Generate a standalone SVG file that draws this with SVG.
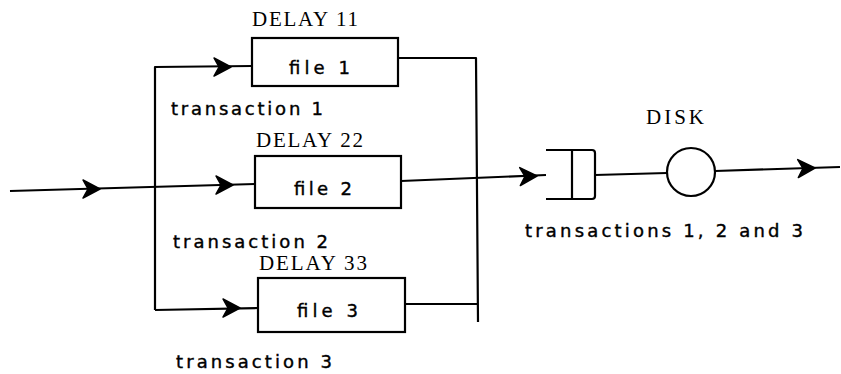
<svg xmlns="http://www.w3.org/2000/svg" width="841" height="374" viewBox="0 0 841 374">
<defs>
<style>
.ln{fill:none;stroke:#000;stroke-width:2.2;stroke-linejoin:round}
.box{fill:#fff;stroke:#000;stroke-width:2.2}
.mono{font-family:"Liberation Serif","DejaVu Serif",serif;font-size:21px;fill:#000}
.sans{font-family:"DejaVu Sans","Liberation Sans",sans-serif;font-size:18px;fill:#000;stroke:#000;stroke-width:0.4}
</style>
<path id="ah" d="M0,0 L-17,-9 L-12,0 L-17,9 Z" fill="#000" stroke="#000" stroke-width="1.5" stroke-linejoin="round"/>
</defs>
<rect width="841" height="374" fill="#fff"/>
<g id="connectors">
<path class="ln" d="M10,191 L255,184"/>
<path class="ln" d="M155,310 L155,67 L252,66"/>
<path class="ln" d="M155,310 L258,308"/>
<path class="ln" d="M398,58 L476,58 L478,322"/>
<path class="ln" d="M405,304 L478,304"/>
<path class="ln" d="M401,181 L546,175"/>
<path class="ln" d="M595,175 L667,173"/>
<path class="ln" d="M715,171 L840,167"/>
<use href="#ah" transform="translate(100,189)"/>
<use href="#ah" transform="translate(231,67)"/>
<use href="#ah" transform="translate(233,185)"/>
<use href="#ah" transform="translate(240,308)"/>
<use href="#ah" transform="translate(537,176) rotate(-2)"/>
<use href="#ah" transform="translate(815,168) rotate(-2)"/>
</g>
<g id="file1">
<rect class="box" x="252" y="38" width="146" height="48"/>
<text class="mono" x="252" y="26" textLength="106">DELAY 11</text>
<text class="sans" x="289" y="74" textLength="61">file 1</text>
<text class="sans" x="171" y="115" textLength="152">transaction 1</text>
</g>
<g id="file2">
<rect class="box" x="255" y="156" width="146" height="52"/>
<text class="mono" x="256" y="147" textLength="107">DELAY 22</text>
<text class="sans" x="294" y="195" textLength="58">file 2</text>
<text class="sans" x="173" y="248" textLength="155">transaction 2</text>
</g>
<g id="file3">
<rect class="box" x="258" y="278" width="147" height="54"/>
<text class="mono" x="259" y="270" textLength="108">DELAY 33</text>
<text class="sans" x="297" y="317" textLength="61">file 3</text>
<text class="sans" x="176" y="368" textLength="156">transaction 3</text>
</g>
<g id="queue">
<path class="ln" d="M546,150 L592,150 Q595,150 595,153 L595,196 Q595,199 592,199 L546,199"/>
<path class="ln" d="M572,150 L572,199"/>
<text class="sans" x="525" y="237" textLength="278">transactions 1, 2 and 3</text>
</g>
<g id="disk">
<circle class="box" cx="691" cy="172" r="24"/>
<text class="mono" x="646" y="124" textLength="58">DISK</text>
</g>
</svg>
